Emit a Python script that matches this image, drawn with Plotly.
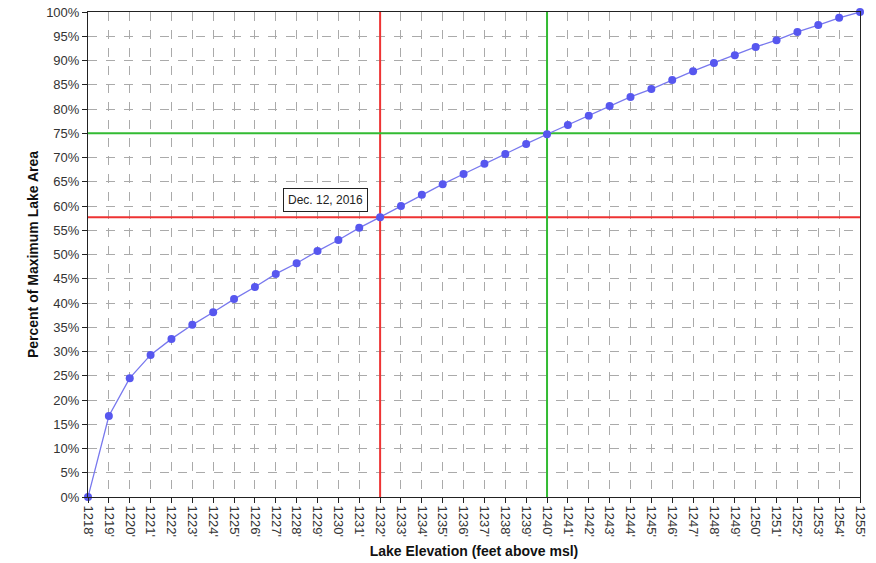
import plotly.graph_objects as go

elevations = list(range(1218, 1256))
percent_area = [0.0, 16.7, 24.5, 29.3, 32.6, 35.5, 38.1, 40.8, 43.3, 46.0,
                48.2, 50.7, 53.0, 55.5, 57.7, 60.0, 62.3, 64.5, 66.6, 68.7,
                70.7, 72.8, 74.8, 76.7, 78.6, 80.6, 82.5, 84.1, 86.0, 87.8,
                89.5, 91.1, 92.8, 94.2, 95.9, 97.3, 98.8, 100.0]
x_tick_labels = [f"{e}'" for e in elevations]
y_ticks = list(range(0, 101, 5))
y_tick_labels = [f"{v}%" for v in y_ticks]

current_elev = 1232
current_pct = 57.7
current_label = "Dec. 12, 2016"
target_elev = 1240
target_pct = 75

x_min, x_max = elevations[0], elevations[-1]
y_min, y_max = 0, 100

RED = "#ee3333"
GREEN = "#33bb33"

fig = go.Figure()
# reference lines (drawn as traces so they sit above the grid but below the data)
for xs, ys, col in [
    ([current_elev, current_elev], [y_min, y_max], RED),
    ([x_min, x_max], [current_pct, current_pct], RED),
    ([target_elev, target_elev], [y_min, y_max], GREEN),
    ([x_min, x_max], [target_pct, target_pct], GREEN),
]:
    fig.add_trace(go.Scatter(x=xs, y=ys, mode="lines", line=dict(color=col, width=2),
                             showlegend=False, hoverinfo="skip"))

fig.add_trace(go.Scatter(
    x=elevations, y=percent_area, mode="lines+markers",
    line=dict(color="#7878ee", width=1.3),
    marker=dict(color="#5757ef", size=8),
    showlegend=False, cliponaxis=False,
))

fig.add_annotation(x=1229.36, y=61.2, xref="x", yref="y", text=current_label, showarrow=False,
                   bgcolor="white", bordercolor="#222222", borderwidth=1, borderpad=4,
                   font=dict(family="Liberation Sans, Arial, sans-serif", size=12, color="#222222"))

fig.update_layout(
    width=876, height=563,
    margin=dict(l=88, r=16, t=12, b=66),
    paper_bgcolor="white", plot_bgcolor="white",
    font=dict(family="Liberation Sans, Arial, sans-serif", size=13, color="#333333"),
)
fig.update_xaxes(
    range=[x_min, x_max], tickvals=elevations, ticktext=x_tick_labels, tickangle=90,
    showgrid=True, gridcolor="#aaaaaa", griddash="dash", gridwidth=1,
    ticks="outside", ticklen=5, tickcolor="#222222",
    showline=True, linecolor="#222222", linewidth=1, mirror=True,
    tickfont=dict(size=13, color="#333333"),
    title=dict(text="<b>Lake Elevation (feet above msl)</b>", font=dict(size=14, color="#111111"), standoff=10),
    zeroline=False, automargin=False,
)
fig.update_yaxes(
    range=[y_min, y_max], tickvals=y_ticks, ticktext=y_tick_labels,
    showgrid=True, gridcolor="#aaaaaa", griddash="dash", gridwidth=1,
    ticks="outside", ticklen=5, tickcolor="#222222",
    showline=True, linecolor="#222222", linewidth=1, mirror=True,
    tickfont=dict(size=13, color="#333333"),
    title=dict(text="<b>Percent of Maximum Lake Area</b>", font=dict(size=14, color="#111111"), standoff=4),
    zeroline=False, automargin=False,
)

fig.write_html("out.html")
